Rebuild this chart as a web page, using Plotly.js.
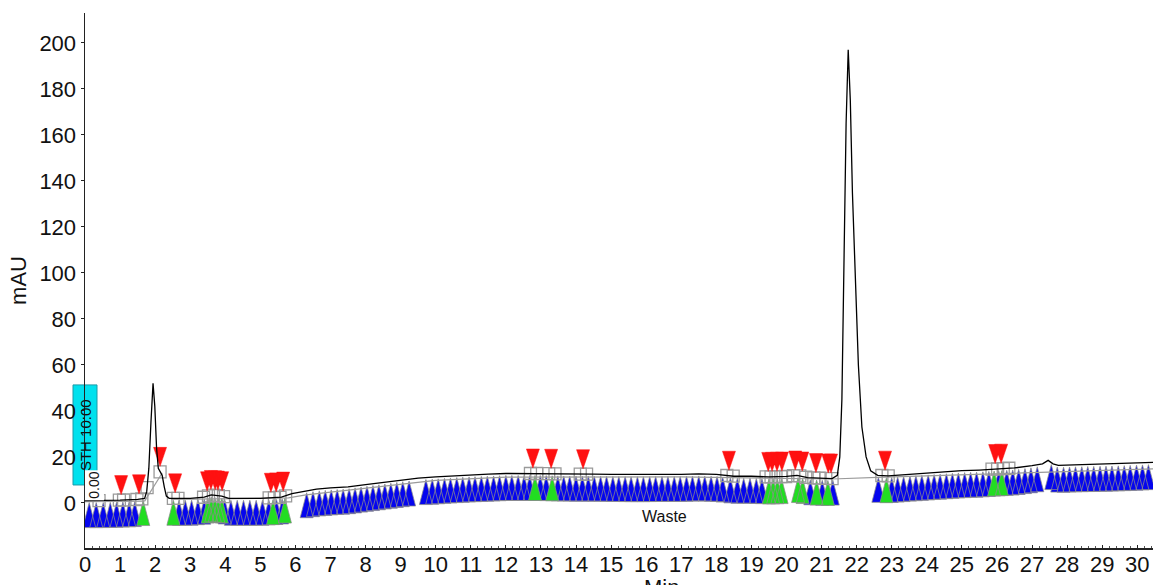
<!DOCTYPE html>
<html><head><meta charset="utf-8">
<script src="https://cdn.plot.ly/plotly-3.0.1.min.js"></script>
<style>html,body{margin:0;padding:0;background:#fff}#chart{width:1153px;height:585px}</style>
</head><body><div id="chart"></div>
<script>
// Chromatogram trace (minutes, mAU)
const traceTime = [0.0,0.5,1.0,1.5,1.70,1.76,1.82,1.88,1.94,1.99,2.04,2.09,2.14,2.20,2.26,2.32,2.40,2.55,3.0,3.4,3.6,3.9,4.1,5.0,5.6,5.9,6.2,6.6,7.0,7.5,8.0,8.5,9.0,9.5,10.0,10.5,11.0,11.5,12.0,12.5,13.0,13.5,14.0,14.5,15.0,15.5,16.0,16.5,17.0,17.5,18.0,18.5,19.0,19.5,20.0,20.3,20.6,21.0,21.3,21.45,21.52,21.58,21.64,21.70,21.76,21.82,21.88,21.95,22.05,22.15,22.27,22.40,22.6,22.9,23.5,24.0,24.5,25.0,25.5,26.0,26.5,27.0,27.3,27.46,27.6,27.75,28.3,29.0,29.5,30.0,30.45];
const traceMAU  = [1.0,1.0,1.2,1.5,2,5,15,35,52,42,24,15,13.5,12,7,3,2,2,2,2.5,3.5,3,2,2,2.5,4,5,6,6.5,7,8,9,10,10.8,11.3,11.8,12.2,12.5,12.8,12.8,12.8,12.6,12.5,12.5,12.4,12.3,12.3,12.4,12.4,12.6,12.4,11.6,11.6,11.3,11.5,12,11,10.7,10.6,12,20,45,100,165,197,175,135,100,60,33,20,14,12,11.8,12.5,13,13.5,14,14.3,14.8,15.2,16.2,17,18.5,17,16.3,16.6,16.8,17,17.3,17.6];
// Integration baseline (gray)
const baseTime = [0.0,1.70,null,1.70,2.20,null,2.45,5.8,6.3,9.0,10.0,12.0,17.0,21.3,22.8,30.45];
const baseMAU  = [0.6,0.8,null,0.8,13.0,null,1.5,2.2,3.5,8.2,9.8,11.2,11.3,10.4,11.2,14.8];
// Fraction / event markers (minutes)
const blueTimes = [0.12,0.32,0.52,0.72,0.90,1.08,1.26,1.42,
  2.68,2.86,3.04,3.22,3.40,
  3.98,4.16,4.34,4.52,4.70,4.88,5.06,5.24,5.46,5.62,
  6.32,6.50,6.68,6.85,7.02,7.19,7.36,7.53,7.70,7.87,8.04,8.21,8.38,8.55,8.72,8.89,9.06,9.24,
  9.72,9.90,10.07,10.25,10.42,10.60,10.77,10.95,11.12,11.30,11.47,11.65,11.82,12.00,12.17,12.35,12.52,12.68,12.98,13.15,13.48,13.65,13.82,14.00,14.18,14.35,14.52,14.70,14.87,15.05,15.22,15.40,15.57,15.75,15.92,16.10,16.27,16.45,16.62,16.80,16.97,17.15,17.32,17.50,17.67,17.85,18.02,18.18,
  18.40,18.60,18.78,18.96,19.14,19.30,
  20.68,21.02,21.32,
  22.62,23.00,23.17,23.34,23.52,23.69,23.86,24.04,24.21,24.38,24.56,24.73,24.90,25.08,25.25,25.42,25.60,25.77,26.05,26.28,26.45,26.62,26.80,26.97,27.15,
  27.55,27.72,27.90,28.07,28.24,28.42,28.59,28.76,28.94,29.11,29.28,29.46,29.63,29.80,29.98,30.15,30.32];
const greenTimes = [1.66,2.52,3.50,3.60,3.70,3.80,3.90,5.36,5.70,12.83,13.32,19.50,19.62,19.74,19.86,20.33,20.46,20.86,21.18,22.85,25.92,26.14];
const redTimes = [1.03,1.54,2.14,2.57,3.48,3.59,3.71,3.79,3.91,5.30,5.45,5.65,12.77,13.29,14.20,18.36,19.48,19.59,19.73,19.87,20.25,20.45,20.84,21.19,21.27,22.81,25.95,26.12];
const squareTimes = [0.40,0.98,1.10,1.48,1.62,1.77,2.14,2.52,2.65,3.38,3.52,3.66,3.80,3.95,5.25,5.40,5.56,5.72,12.70,12.88,13.22,13.40,14.12,14.30,18.30,18.48,19.42,19.56,19.70,19.84,19.98,20.20,20.38,20.55,20.78,20.93,21.12,21.30,22.72,22.90,25.86,26.02,26.18,26.34];
const xTickVals = [0,1,2,3,4,5,6,7,8,9,10,11,12,13,14,15,16,17,18,19,20,21,22,23,24,25,26,27,28,29,30];
const yTickVals = [0,20,40,60,80,100,120,140,160,180,200];
const yTitle = 'mAU', xTitle = 'Min', wasteLabel = 'Waste', eventLabel = 'STH 10:00', zeroLabel = '0.00';

// Layout geometry
const W = 1153, H = 585, M = {l:85, r:0, t:13, b:37};
const xRange = [0, 30.45], yRange = [-19.6, 213];
const pxX = (W - M.l - M.r) / (xRange[1] - xRange[0]);
const pxY = (H - M.t - M.b) / (yRange[1] - yRange[0]);

function interp(t) {
  for (let i = 1; i < traceTime.length; i++) {
    if (t <= traceTime[i]) {
      const f = (t - traceTime[i-1]) / (traceTime[i] - traceTime[i-1]);
      return traceMAU[i-1] + f * (traceMAU[i] - traceMAU[i-1]);
    }
  }
  return traceMAU[traceMAU.length - 1];
}

// triangles: apex pointing up below the trace, or pointing down above it
function triPolys(times, dir, halfWpx, heightPx, offsetPx) {
  const xs = [], ys = [];
  const hw = halfWpx / pxX, h = heightPx / pxY, off = offsetPx / pxY;
  times.forEach(t => {
    const v = interp(t);
    if (dir === 'up') {
      const apex = v - off;
      xs.push(t, t - hw, t + hw, t, null);
      ys.push(apex, apex - h, apex - h, apex, null);
    } else {
      const tip = v + off;
      xs.push(t, t - hw, t + hw, t, null);
      ys.push(tip, tip + h, tip + h, tip, null);
    }
  });
  return {xs, ys};
}

const blue = triPolys(blueTimes, 'up', 6.5, 25, 2.0);
const green = triPolys(greenTimes, 'up', 6.5, 25, 2.0);
const red = triPolys(redTimes, 'down', 6.5, 19, 5.5);

const data = [
  {x: blue.xs, y: blue.ys, type: 'scatter', mode: 'lines', fill: 'toself', fillcolor: '#0505ee',
   line: {color: 'rgba(140,140,140,0.95)', width: 0.8}, hoverinfo: 'skip', showlegend: false},
  {x: green.xs, y: green.ys, type: 'scatter', mode: 'lines', fill: 'toself', fillcolor: '#22dd22',
   line: {color: 'rgba(140,140,140,0.95)', width: 0.8}, hoverinfo: 'skip', showlegend: false},
  {x: baseTime, y: baseMAU, type: 'scatter', mode: 'lines', line: {color: '#9a9a9a', width: 1.2},
   hoverinfo: 'skip', showlegend: false, connectgaps: false},
  {x: squareTimes, y: squareTimes.map(interp), type: 'scatter', mode: 'markers',
   marker: {symbol: 'square-open', size: 12, color: '#9a9a9a', line: {width: 1.3, color: '#9a9a9a'}},
   hoverinfo: 'skip', showlegend: false},
  {x: red.xs, y: red.ys, type: 'scatter', mode: 'lines', fill: 'toself', fillcolor: '#ff1111',
   line: {color: '#ff1111', width: 0.5}, hoverinfo: 'skip', showlegend: false},
  {x: traceTime, y: traceMAU, type: 'scatter', mode: 'lines', line: {color: '#000', width: 1.3},
   hoverinfo: 'skip', showlegend: false}
];

const tickFont = {family: 'Liberation Sans, Arial, sans-serif', size: 22, color: '#111'};
const layout = {
  width: W, height: H, margin: M, paper_bgcolor: '#fff', plot_bgcolor: '#fff', showlegend: false,
  font: {family: 'Liberation Sans, Arial, sans-serif'},
  xaxis: {range: xRange, tickvals: xTickVals, ticktext: xTickVals.map(String), showgrid: false, zeroline: false,
    showline: true, linecolor: '#222', linewidth: 1.5, ticks: 'inside', ticklen: 3, tickcolor: '#222',
    ticklabelstandoff: -4,
    tickfont: tickFont, minor: {dtick: 0.2, ticks: 'inside', ticklen: 2, tickcolor: '#555'}},
  yaxis: {range: yRange, tickvals: yTickVals, ticktext: yTickVals.map(String), showgrid: false, zeroline: false,
    showline: true, linecolor: '#222', linewidth: 1.5, ticks: 'outside', ticklen: 3, tickcolor: '#222',
    tickfont: tickFont, title: {text: yTitle, font: {family: 'Liberation Sans, Arial, sans-serif', size: 22, color: '#111'}, standoff: 6}},
  shapes: [
    {type: 'rect', layer: 'below', xref: 'paper', yref: 'y', x0: -12 / (W - M.l), x1: 12 / (W - M.l), y0: 7.8, y1: 51.3,
     fillcolor: '#00e1ee', line: {color: '#1a9aa8', width: 1}}
  ],
  annotations: [
    {text: eventLabel, xref: 'x', yref: 'y', x: 0.0, y: 29.5, showarrow: false, textangle: -90,
     font: {family: 'Liberation Sans, Arial, sans-serif', size: 15, color: '#111'}},
    {text: zeroLabel, xref: 'x', yref: 'y', x: 0.26, y: 7.5, showarrow: false, textangle: -90, bgcolor: '#fff',
     font: {family: 'Liberation Sans, Arial, sans-serif', size: 14, color: '#111'}},
    {text: wasteLabel, xref: 'x', yref: 'y', x: 16.51, y: -6.1, showarrow: false,
     font: {family: 'Liberation Sans, Arial, sans-serif', size: 16, color: '#111'}},
    {text: xTitle, xref: 'x', yref: 'paper', x: 16.45, y: -0.046, yanchor: 'top', showarrow: false,
     font: {family: 'Liberation Sans, Arial, sans-serif', size: 22, color: '#111'}}
  ]
};
Plotly.newPlot('chart', data, layout, {displayModeBar: false, staticPlot: true});
</script></body></html>
